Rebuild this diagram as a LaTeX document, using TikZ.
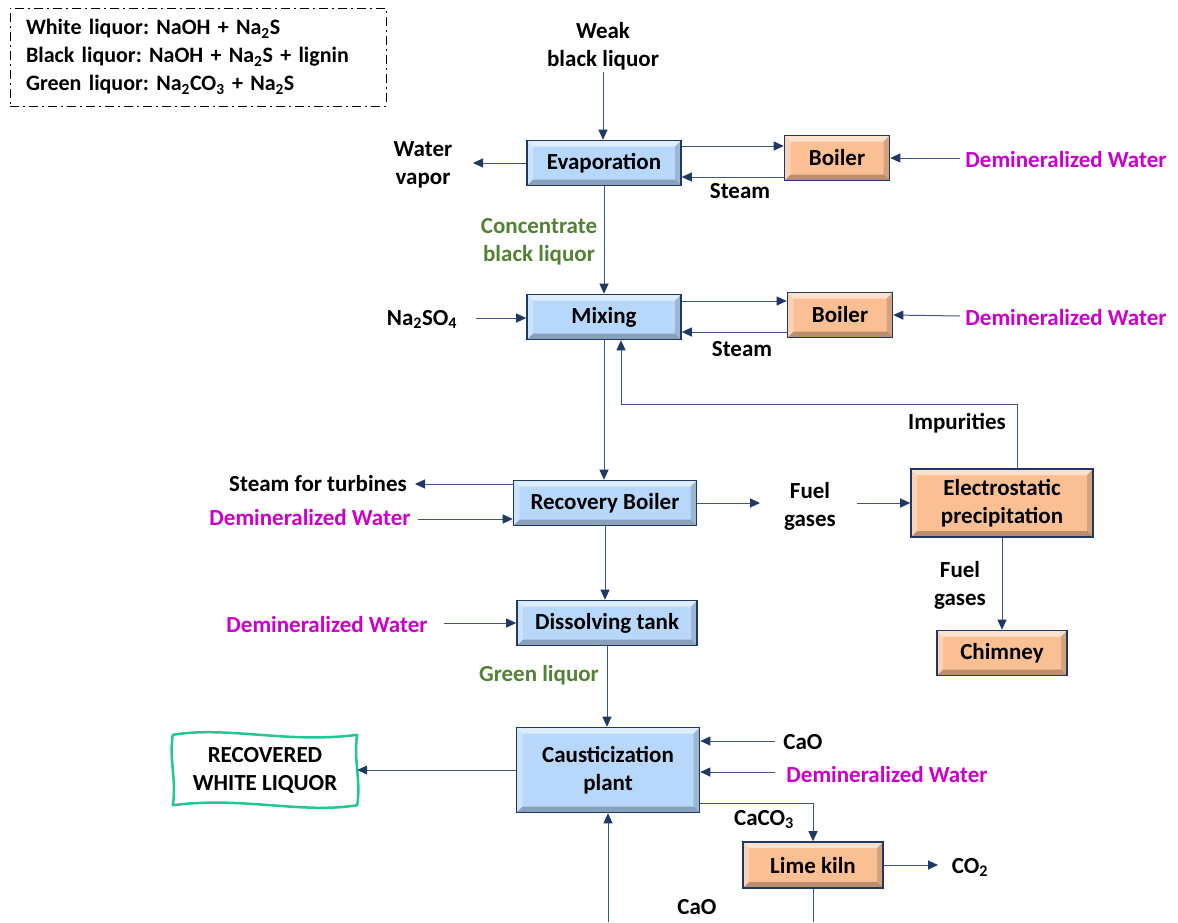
\documentclass[tikz,border=0pt]{standalone}
\usepackage{fontspec}
\setmainfont{Carlito}
\usetikzlibrary{arrows.meta}
\definecolor{navy}{RGB}{31,56,100}
\definecolor{lineblue}{RGB}{60,85,145}
\definecolor{bluefill}{RGB}{183,216,250}
\definecolor{orangefill}{RGB}{250,192,148}
\definecolor{mag}{RGB}{204,0,204}
\definecolor{grn}{RGB}{84,130,53}
\definecolor{wlteal}{RGB}{32,200,150}
\frenchspacing
\tikzset{
  x=1pt, y=-1pt,
  bevel/.style={path picture={
    \fill[white,opacity=.55] (path picture bounding box.north west) -- (path picture bounding box.north east)
      -- ([shift={(-6,6)}]path picture bounding box.north east) -- ([shift={(6,6)}]path picture bounding box.north west) -- cycle;
    \fill[white,opacity=.3] (path picture bounding box.north west) -- ([shift={(6,6)}]path picture bounding box.north west)
      -- ([shift={(6,-6)}]path picture bounding box.south west) -- (path picture bounding box.south west) -- cycle;
    \fill[black,opacity=.25] (path picture bounding box.south west) -- (path picture bounding box.south east)
      -- ([shift={(-6,-6)}]path picture bounding box.south east) -- ([shift={(6,-6)}]path picture bounding box.south west) -- cycle;
    \fill[black,opacity=.15] (path picture bounding box.north east) -- ([shift={(-6,6)}]path picture bounding box.north east)
      -- ([shift={(-6,-6)}]path picture bounding box.south east) -- (path picture bounding box.south east) -- cycle;
  }},
  proc/.style={draw=navy, line width=1.6pt, minimum height=45pt, inner sep=0pt,
    font=\bfseries\fontsize{23}{28}\selectfont, align=center, bevel},
  bluebox/.style={proc, fill=bluefill},
  orangebox/.style={proc, fill=orangefill},
  lbl/.style={font=\bfseries\fontsize{23}{28}\selectfont, align=center, inner sep=1pt, yshift=-1.5pt},
  arr/.style={draw=lineblue, line width=1pt, -{Triangle[length=10pt,width=9pt,color=navy]}},
  plain/.style={draw=lineblue, line width=1pt},
  wl/.style={font=\bfseries\fontsize{23}{28}\selectfont, align=center, inner sep=0pt},
  wlline/.style={draw=wlteal, line width=2.5pt, line join=round},
  legend/.style={draw=black, line width=1pt, dash pattern=on 9pt off 4pt on 2pt off 4pt,
    font=\bfseries\fontsize{22}{28}\selectfont, align=left, text width=344pt, inner xsep=16pt,
    minimum width=376pt, minimum height=98pt}
}
\begin{document}
\begin{tikzpicture}
\fill[white] (0,0) rectangle (1178,922);
\useasboundingbox (0,0) rectangle (1178,922);

% legend
\node[legend] (leg) at (198,57) {White liquor: NaOH + Na\textsubscript{2}S\\Black liquor: NaOH + Na\textsubscript{2}S + lignin\\Green liquor: Na\textsubscript{2}CO\textsubscript{3} + Na\textsubscript{2}S};

% process boxes
\node[bluebox, minimum width=154pt] (evap) at (604,163) {Evaporation};
\node[orangebox, minimum width=105pt] (boil1) at (837,158) {Boiler};
\node[bluebox, minimum width=154pt] (mix) at (604,317) {Mixing};
\node[orangebox, minimum width=105pt] (boil2) at (840,315) {Boiler};
\node[bluebox, minimum width=183pt] (rb) at (605,503) {Recovery Boiler};
\node[orangebox, minimum width=182pt, minimum height=68pt] (esp) at (1002,503) {Electrostatic\\precipitation};
\node[orangebox, minimum width=130pt] (chim) at (1002,653) {Chimney};
\node[bluebox, minimum width=180pt] (diss) at (607,623) {Dissolving tank};
\node[bluebox, minimum width=183pt, minimum height=85pt] (caus) at (608,770) {Causticization\\plant};
\node[orangebox, minimum width=140pt, minimum height=46pt] (lime) at (813,865) {Lime kiln};
\node[wl, minimum width=184pt, minimum height=70pt] (rwl) at (265,770) {RECOVERED\\WHITE LIQUOR};
\draw[wlline] (rwl.north west)
  .. controls ([shift={(55,-9)}]rwl.north west) and ([shift={(-70,9)}]rwl.north east) .. (rwl.north east)
  .. controls ([shift={(-4,25)}]rwl.north east) and ([shift={(4,-25)}]rwl.south east) .. (rwl.south east)
  .. controls ([shift={(-55,9)}]rwl.south east) and ([shift={(70,-9)}]rwl.south west) .. (rwl.south west)
  .. controls ([shift={(4,-25)}]rwl.south west) and ([shift={(-4,25)}]rwl.north west) .. cycle;

% labels
\node[lbl] (weak) at (603,45) {Weak\\black liquor};
\node[lbl] (wv) at (423,163) {Water\\vapor};
\node[lbl] (st1) at (740,190) {Steam};
\node[lbl, text=mag] (dw1) at (1066,158) {Demineralized Water};
\node[lbl, text=grn] (cbl) at (539,240) {Concentrate\\black liquor};
\node[lbl] (na) at (422,318) {Na\textsubscript{2}SO\textsubscript{4}};
\node[lbl] (st2) at (742,348) {Steam};
\node[lbl, text=mag] (dw2) at (1066,316) {Demineralized Water};
\node[lbl] (imp) at (957,422) {Impurities};
\node[lbl] (sft) at (318,482) {Steam for turbines};
\node[lbl, text=mag] (dw3) at (310,516) {Demineralized Water};
\node[lbl] (fg1) at (810,505) {Fuel\\gases};
\node[lbl] (fg2) at (960,584) {Fuel\\gases};
\node[lbl, text=mag] (dw4) at (327,623) {Demineralized Water};
\node[lbl, text=grn] (gl) at (539,674) {Green liquor};
\node[lbl] (cao1) at (803,741) {CaO};
\node[lbl, text=mag] (dw5) at (887,773) {Demineralized Water};
\node[lbl] (caco) at (764,818) {CaCO\textsubscript{3}};
\node[lbl] (co2) at (970,866) {CO\textsubscript{2}};
\node[lbl] (cao2) at (697,906) {CaO};

% free ends
\coordinate (wvend) at (473,163);
\coordinate (dw1s) at (960,158);
\coordinate (nas) at (476,318);
\coordinate (dw2s) at (960,316);
\coordinate (impc) at (621,404);
\coordinate (sfte) at (415,484);
\coordinate (dw3s) at (418,519);
\coordinate (fg1e) at (760,503);
\coordinate (fg1s) at (857,503);
\coordinate (dw4s) at (444,623);
\coordinate (cao1s) at (775,741);
\coordinate (dw5s) at (775,772);
\coordinate (co2e) at (938,865);
\coordinate (bot) at (813,922);

% connectors
\draw[arr] (weak) -- (weak |- evap.north);
\draw[arr] (evap.west) -- (wvend);
\draw[arr] ([shift={(0,-17)}]evap.east) coordinate (a1) -- (a1 -| boil1.west);
\coordinate (a2) at ([shift={(0,14)}]evap.east);
\draw[arr] (a2 -| boil1.west) -- (a2);
\draw[arr] (dw1s) -- (boil1.east);
\draw[arr] (evap.south) -- (mix.north);
\draw[arr] (nas) -- (nas -| mix.west);
\draw[arr] ([shift={(0,-16)}]mix.east) coordinate (m1) -- (m1 -| boil2.west);
\coordinate (m2) at ([shift={(0,15)}]mix.east);
\draw[arr] (m2 -| boil2.west) -- (m2);
\draw[arr] (dw2s) -- (boil2.east);
\draw[arr] (mix.south) -- (mix.south |- rb.north);
\draw[arr] ([shift={(15,0)}]esp.north) |- (impc) -- (impc |- mix.south);
\draw[arr] ([shift={(0,-19)}]rb.west) coordinate (b1) -- (b1 -| sfte);
\draw[arr] (dw3s) -- (dw3s -| rb.west);
\draw[arr] (rb.east) -- (fg1e);
\draw[arr] (fg1s) -- (esp.west);
\draw[arr] (esp.south) -- (esp.south |- chim.north);
\draw[arr] (rb.south) -- (rb.south |- diss.north);
\draw[arr] (dw4s) -- (diss.west);
\draw[arr] (diss.south) -- (diss.south |- caus.north);
\draw[arr] (cao1s) -- (cao1s -| caus.east);
\draw[arr] (dw5s) -- (dw5s -| caus.east);
\draw[arr] (caus.west) -- (caus.west -| rwl.east);
\draw[arr] ([shift={(0,33)}]caus.east) -| (lime.north);
\draw[arr] (lime.east) -- (co2e);
\draw[plain] (lime.south) -- (bot);
\draw[arr] (caus.south |- bot) -- (caus.south);
\end{tikzpicture}
\end{document}
